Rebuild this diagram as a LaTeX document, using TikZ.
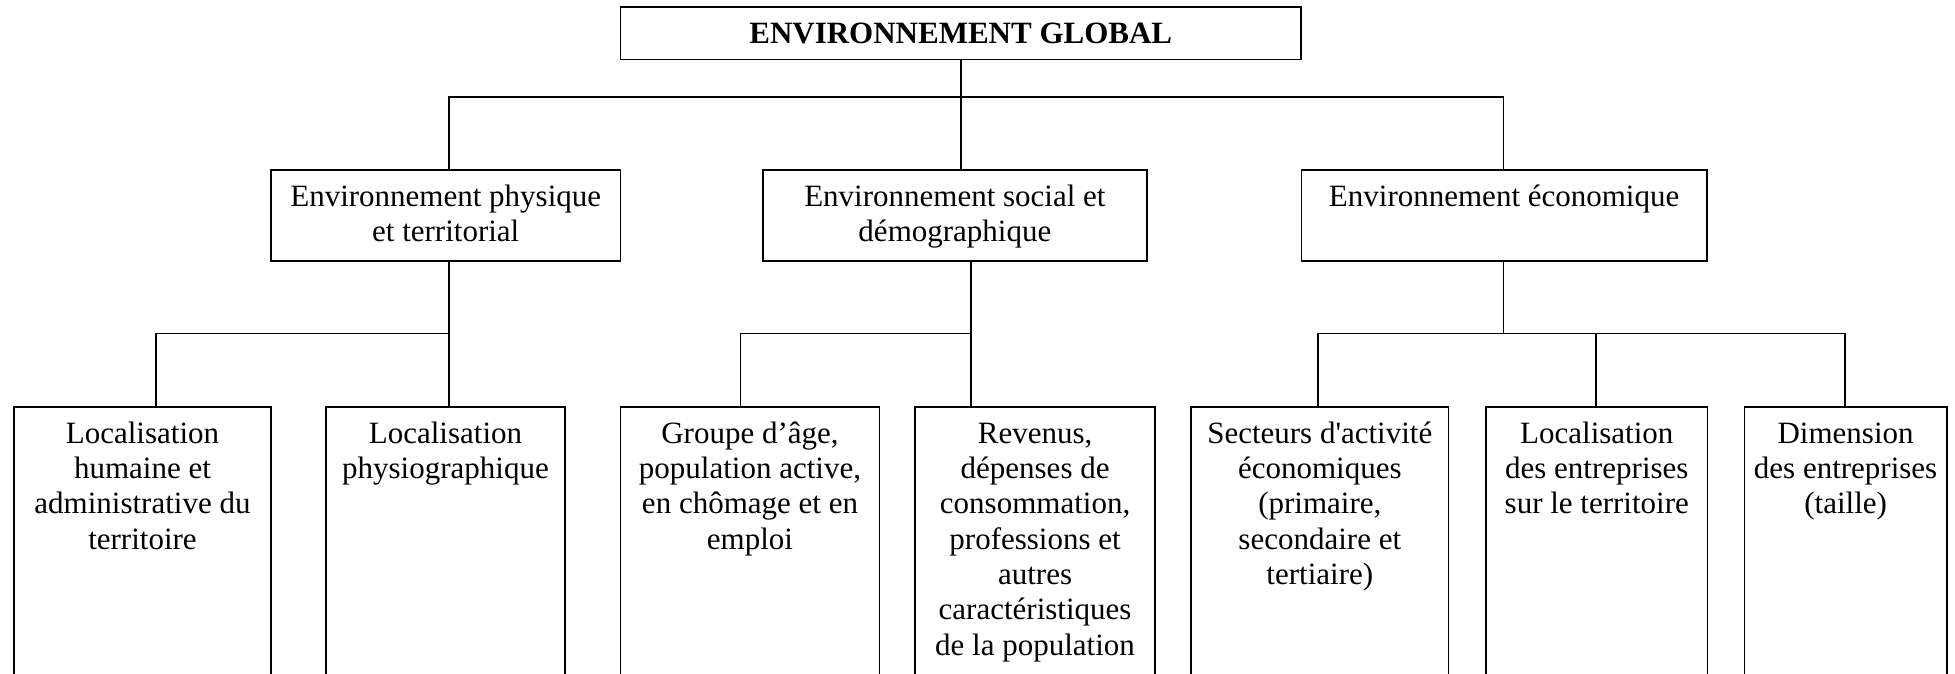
\documentclass[tikz,border=0pt]{standalone}
\usepackage{fontspec}
\setmainfont{Liberation Serif}
\newcommand\boxtext[3]{\parbox[t][#2][t]{#1}{\centering\rule{0pt}{36.5pt}#3}}
\tikzset{
  box/.style={draw, rectangle, line width=1.6pt, inner sep=0pt, outer sep=0pt, anchor=north},
  conn/.style={line width=1.6pt},
}
\begin{document}
\begin{tikzpicture}[x=1pt,y=-1pt,font=\fontsize{31}{35.3}\selectfont]
\useasboundingbox (0,0) rectangle (1955,673);
\clip (0,0) rectangle (1955,673);
% top
\node[box] (top) at (960.75,6.7) {\boxtext{680.5pt}{52.6pt}{\textbf{ENVIRONNEMENT GLOBAL}}};
% level 2
\node[box] (A) at (445.75,170) {\boxtext{349.5pt}{90.7pt}{Environnement physique\\et territorial}};
\node[box] (B) at (954.9,170) {\boxtext{384.2pt}{90.7pt}{Environnement social et\\démographique}};
\node[box] (C) at (1504.15,170) {\boxtext{405.7pt}{90.7pt}{Environnement économique}};
% level 3
\node[box] (L1) at (142.5,406.7) {\boxtext{257pt}{300pt}{Localisation\\humaine et\\administrative du\\territoire}};
\node[box] (L2) at (445.5,406.7) {\boxtext{239pt}{300pt}{Localisation\\physiographique}};
\node[box] (L3) at (750,406.7) {\boxtext{259pt}{300pt}{Groupe d’âge,\\population active,\\en chômage et en\\emploi}};
\node[box] (L4) at (1035.1,406.7) {\boxtext{239.8pt}{300pt}{Revenus,\\dépenses de\\consommation,\\professions et\\autres\\caractéristiques\\de la population}};
\node[box] (L5) at (1319.8,406.7) {\boxtext{257.6pt}{300pt}{Secteurs d\textquotesingle activité\\économiques\\(primaire,\\secondaire et\\tertiaire)}};
\node[box] (L6) at (1596.8,406.7) {\boxtext{221.6pt}{300pt}{Localisation\\des entreprises\\sur le territoire}};
\node[box] (L7) at (1845.6,406.7) {\boxtext{202.2pt}{300pt}{Dimension\\des entreprises\\(taille)}};
% connectors level 1 -> 2
\coordinate (j0) at (960.75,97);
\coordinate (a0) at (449,97);
\coordinate (c0) at (1503.5,97);
\draw[conn] (top.south) -- (B.north -| j0);
\draw[conn] (A.north -| a0) -- (a0) -- (c0) -- (C.north -| c0);
% group A
\coordinate (jA) at (449,333.3);
\coordinate (kA) at (156,333.3);
\draw[conn] (A.south -| jA) -- (L2.north -| jA);
\draw[conn] (jA) -- (kA) -- (L1.north -| kA);
% group B
\coordinate (jB) at (971,333.3);
\coordinate (kB) at (740.4,333.3);
\draw[conn] (B.south -| jB) -- (L4.north -| jB);
\draw[conn] (jB) -- (kB) -- (L3.north -| kB);
% group C
\coordinate (jC) at (1503.5,333.3);
\coordinate (kC1) at (1318,333.3);
\coordinate (kC2) at (1596,333.3);
\coordinate (kC3) at (1845,333.3);
\draw[conn] (C.south -| jC) -- (jC);
\draw[conn] (L5.north -| kC1) -- (kC1) -- (kC3) -- (L7.north -| kC3);
\draw[conn] (kC2) -- (L6.north -| kC2);
\end{tikzpicture}
\end{document}
